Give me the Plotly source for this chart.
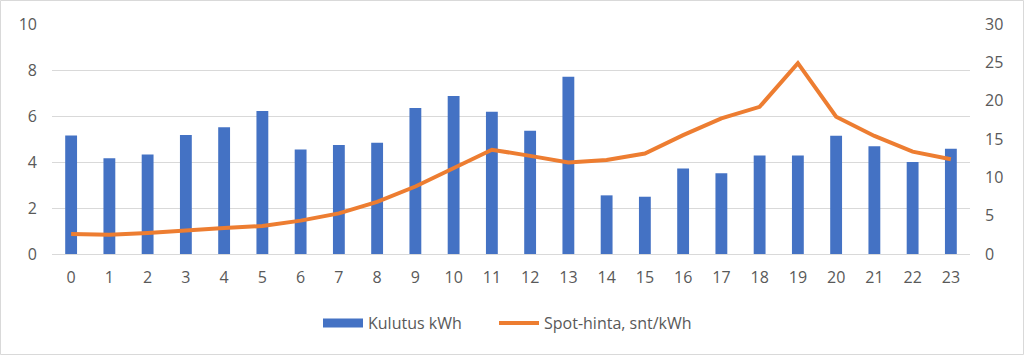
import plotly.graph_objects as go

hours = list(range(24))
hour_labels = [str(h) for h in hours]
kulutus_kwh = [5.15, 4.16, 4.33, 5.17, 5.51, 6.22, 4.54, 4.74, 4.84, 6.35, 6.87, 6.19,
               5.36, 7.71, 2.55, 2.49, 3.72, 3.51, 4.28, 4.28, 5.14, 4.68, 4.0, 4.58]
spot_hinta = [2.6, 2.5, 2.75, 3.1, 3.4, 3.65, 4.35, 5.3, 6.8, 8.8, 11.2, 13.6,
              12.8, 11.95, 12.25, 13.1, 15.5, 17.7, 19.2, 24.9, 17.9, 15.4, 13.35, 12.35]

name_bar = "Kulutus kWh"
name_line = "Spot-hinta, snt/kWh"

text_color = "#595959"
font_family = "Open Sans, Liberation Sans, sans-serif"
blue = "#4472C4"
orange = "#ED7D31"

fig = go.Figure()
fig.add_trace(go.Bar(x=hour_labels, y=kulutus_kwh, name=name_bar, showlegend=False,
                     marker=dict(color=blue, line=dict(width=0)), yaxis="y"))
# legend entry for bars drawn as a wide block like the original
fig.add_trace(go.Scatter(x=[None], y=[None], name=name_bar, mode="lines",
                         line=dict(color=blue, width=9), yaxis="y", hoverinfo="skip",
                         legend="legend"))
fig.add_trace(go.Scatter(x=hour_labels, y=spot_hinta, name=name_line, mode="lines",
                         line=dict(color=orange, width=4), yaxis="y2", legend="legend2"))

L, R, T, B = 52, 54, 24, 101
W, H = 1024, 355
pw, ph = W - L - R, H - T - B

leg_common = dict(orientation="h", yanchor="middle", xanchor="left",
                  font=dict(size=16, color=text_color), itemwidth=40,
                  bgcolor="rgba(0,0,0,0)", borderwidth=0)

fig.update_layout(
    width=W, height=H,
    margin=dict(l=L, r=R, t=T, b=B, autoexpand=False),
    paper_bgcolor="white", plot_bgcolor="white",
    font=dict(family=font_family, size=16, color=text_color),
    bargap=0.69,
    showlegend=True,
    legend=dict(x=(318 - L) / pw, y=-(323 - (T + ph)) / ph, **leg_common),
    legend2=dict(x=(494 - L) / pw, y=-(323 - (T + ph)) / ph, **leg_common),
    xaxis=dict(type="category", showgrid=False, showline=False, ticks="",
               ticklabelstandoff=12,
               tickfont=dict(size=16, color=text_color)),
    yaxis=dict(range=[0, 10], dtick=2, showgrid=True, gridcolor="#D9D9D9", gridwidth=1,
               zeroline=True, zerolinecolor="#D9D9D9", zerolinewidth=1,
               showline=False, ticks="", ticklabelstandoff=14,
               tickfont=dict(size=16, color=text_color)),
    yaxis2=dict(range=[0, 30], dtick=5, overlaying="y", side="right", showgrid=False,
                zeroline=False, showline=False, ticks="", ticklabelstandoff=14,
                tickfont=dict(size=16, color=text_color)),
    shapes=[dict(type="rect", xref="paper", yref="paper",
                 x0=-(L - 0.5) / pw, x1=1 + (R - 0.5) / pw,
                 y0=-(B - 0.5) / ph, y1=1 + (T - 0.5) / ph,
                 line=dict(color="#D9D9D9", width=1), layer="below")],
)

fig.write_html("out.html", config={"displayModeBar": False},
               post_script="document.body.style.margin='0';document.body.style.overflow='hidden';")
